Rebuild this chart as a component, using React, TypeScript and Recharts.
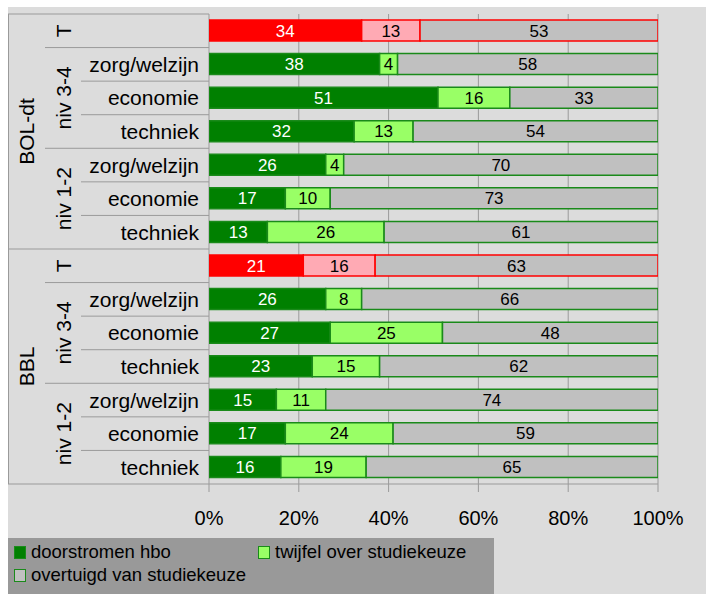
import React from 'react';
import { BarChart, Bar, XAxis, YAxis, CartesianGrid, Cell, LabelList, Legend } from 'recharts';

const outerGroups = ['BOL-dt', 'BOL-dt', 'BOL-dt', 'BOL-dt', 'BOL-dt', 'BOL-dt', 'BOL-dt', 'BBL', 'BBL', 'BBL', 'BBL', 'BBL', 'BBL', 'BBL'];
const midGroups = ['T', 'niv 3-4', 'niv 3-4', 'niv 3-4', 'niv 1-2', 'niv 1-2', 'niv 1-2', 'T', 'niv 3-4', 'niv 3-4', 'niv 3-4', 'niv 1-2', 'niv 1-2', 'niv 1-2'];
const rowLabels = ['', 'zorg/welzijn', 'economie', 'techniek', 'zorg/welzijn', 'economie', 'techniek', '', 'zorg/welzijn', 'economie', 'techniek', 'zorg/welzijn', 'economie', 'techniek'];
const doorstromen = [34, 38, 51, 32, 26, 17, 13, 21, 26, 27, 23, 15, 17, 16];
const twijfel = [13, 4, 16, 13, 4, 10, 26, 16, 8, 25, 15, 11, 24, 19];
const overtuigd = [53, 58, 33, 54, 70, 73, 61, 63, 66, 48, 62, 74, 59, 65];
const xTicks = [0, 0.2, 0.4, 0.6, 0.8, 1];
const seriesNames = ['doorstromen hbo', 'twijfel over studiekeuze', 'overtuigd van studiekeuze'];

const data = rowLabels.map((label, i) => ({
  key: 'r' + i,
  label,
  mid: midGroups[i],
  outer: outerGroups[i],
  doorstromen: doorstromen[i],
  twijfel: twijfel[i],
  overtuigd: overtuigd[i],
}));

const seriesValues = [doorstromen, twijfel, overtuigd];
const FONT = '"Liberation Sans", Arial, sans-serif';
const BG = '#dcdcdc';
const LINE = '#9a9a9a';
const GREEN_FILLS = ['#008000', '#99ff66', '#c0c0c0'];
const RED_FILLS = ['#ff0000', '#ffaab4', '#c0c0c0'];
const GREEN_STROKE = '#1a8a1a';
const RED_STROKE = '#ff0000';

const W = 698;
const H = 587;
const PLOT_LEFT = 201;
const PLOT_RIGHT = 650;
const PLOT_TOP = 7;
const PLOT_BOTTOM = 477;
const MID_START = 37;
const INNER_START = 73;

const isT = (i: number) => midGroups[i] === 'T';

function spanLen(arr: string[], i: number) {
  let n = 1;
  while (i + n < arr.length && arr[i + n] === arr[i]) n++;
  return n;
}

function RowTick(props: any) {
  const { y, payload, height } = props;
  const i: number = payload && payload.index !== undefined ? payload.index : props.index;
  const n = data.length;
  const band = height / n;
  const top = y - band / 2;
  const bottom = y + band / 2;
  const els: any[] = [];
  if (i === 0) {
    els.push(<line key="top" x1={0} y1={top} x2={PLOT_LEFT} y2={top} stroke={LINE} strokeWidth={1} />);
    els.push(<line key="left" x1={0.5} y1={top} x2={0.5} y2={top + height} stroke={LINE} strokeWidth={1} />);
  }
  let startX = 0;
  if (i < n - 1) {
    if (outerGroups[i + 1] !== outerGroups[i]) startX = 0;
    else if (midGroups[i + 1] !== midGroups[i]) startX = MID_START;
    else startX = INNER_START;
  }
  els.push(<line key="bot" x1={startX} y1={bottom} x2={PLOT_LEFT} y2={bottom} stroke={LINE} strokeWidth={1} />);
  if (rowLabels[i]) {
    els.push(
      <text key="lbl" x={PLOT_LEFT - 10} y={y} dy="0.36em" textAnchor="end" fontSize={21} fontFamily={FONT} fill="#000">
        {rowLabels[i]}
      </text>
    );
  }
  if (i === 0 || midGroups[i - 1] !== midGroups[i]) {
    const len = spanLen(midGroups, i);
    const cy = top + (len * band) / 2;
    const cx = 55;
    els.push(
      <text key="mid" x={cx} y={cy} dy="0.36em" textAnchor="middle" fontSize={21} fontFamily={FONT} fill="#000" transform={`rotate(-90 ${cx} ${cy})`}>
        {midGroups[i]}
      </text>
    );
  }
  if (i === 0 || outerGroups[i - 1] !== outerGroups[i]) {
    const len = spanLen(outerGroups, i);
    const cy = top + (len * band) / 2;
    const cx = 18;
    els.push(
      <text key="outer" x={cx} y={cy} dy="0.36em" textAnchor="middle" fontSize={21} fontFamily={FONT} fill="#000" transform={`rotate(-90 ${cx} ${cy})`}>
        {outerGroups[i]}
      </text>
    );
  }
  return <g>{els}</g>;
}

function XTick(props: any) {
  const { x, payload } = props;
  return (
    <text x={x} y={PLOT_BOTTOM + 41} textAnchor="middle" fontSize={20} fontFamily={FONT} fill="#000">
      {Math.round(payload.value * 100) + '%'}
    </text>
  );
}

function makeLabel(series: number) {
  return (props: any) => {
    const { x, y, width, height, index } = props;
    const v = seriesValues[series][index];
    const fill = series === 0 ? '#ffffff' : '#000000';
    return (
      <text x={x + width / 2} y={y + height / 2} dy="0.36em" textAnchor="middle" fontSize={17} fontFamily={FONT} fill={fill}>
        {v}
      </text>
    );
  };
}

function LegendContent() {
  const items = [
    { name: seriesNames[0], fill: GREEN_FILLS[0], left: 6, top: 14 },
    { name: seriesNames[1], fill: GREEN_FILLS[1], left: 250, top: 14 },
    { name: seriesNames[2], fill: GREEN_FILLS[2], left: 6, top: 37 },
  ];
  return (
    <div style={{ position: 'relative', width: 486, height: 56, background: '#999999', fontFamily: FONT }}>
      {items.map((it) => (
        <div key={it.name} style={{ position: 'absolute', left: it.left, top: it.top - 11, height: 22, display: 'flex', alignItems: 'center', whiteSpace: 'nowrap' }}>
          <span style={{ display: 'inline-block', width: 10, height: 11, background: it.fill, border: `1.5px solid ${GREEN_STROKE}`, marginRight: 5 }} />
          <span style={{ fontSize: 18.5, color: '#000', lineHeight: '22px' }}>{it.name}</span>
        </div>
      ))}
    </div>
  );
}

const keys = ['doorstromen', 'twijfel', 'overtuigd'];

export default function App() {
  return (
    <div style={{ position: 'absolute', left: 8, top: 7, width: W, height: H, background: BG, overflow: 'hidden' }}>
      <BarChart
        width={W}
        height={H}
        data={data}
        layout="vertical"
        stackOffset="expand"
        barSize={21}
        margin={{ top: PLOT_TOP, right: W - PLOT_RIGHT, left: 0, bottom: 0 }}
      >
        <CartesianGrid horizontal={false} vertical stroke={LINE} strokeWidth={1} />
        <XAxis
          type="number"
          domain={[0, 1]}
          ticks={xTicks}
          height={H - PLOT_BOTTOM}
          tick={<XTick />}
          tickSize={8}
          tickLine={{ stroke: LINE }}
          axisLine={{ stroke: LINE }}
          allowDataOverflow
        />
        <YAxis
          type="category"
          dataKey="key"
          width={PLOT_LEFT}
          interval={0}
          axisLine={false}
          tickLine={false}
          tick={<RowTick />}
        />
        <Legend
          layout="vertical"
          align="center"
          verticalAlign="middle"
          wrapperStyle={{ left: 0, top: 531, width: 486, height: 56 }}
          content={<LegendContent />}
        />
        {keys.map((k, s) => (
          <Bar key={k} dataKey={k} name={seriesNames[s]} stackId="a" isAnimationActive={false} strokeWidth={1.5}>
            {data.map((d, i) => (
              <Cell key={i} fill={isT(i) ? RED_FILLS[s] : GREEN_FILLS[s]} stroke={isT(i) ? RED_STROKE : GREEN_STROKE} />
            ))}
            <LabelList dataKey={k} content={makeLabel(s)} />
          </Bar>
        ))}
      </BarChart>
    </div>
  );
}
